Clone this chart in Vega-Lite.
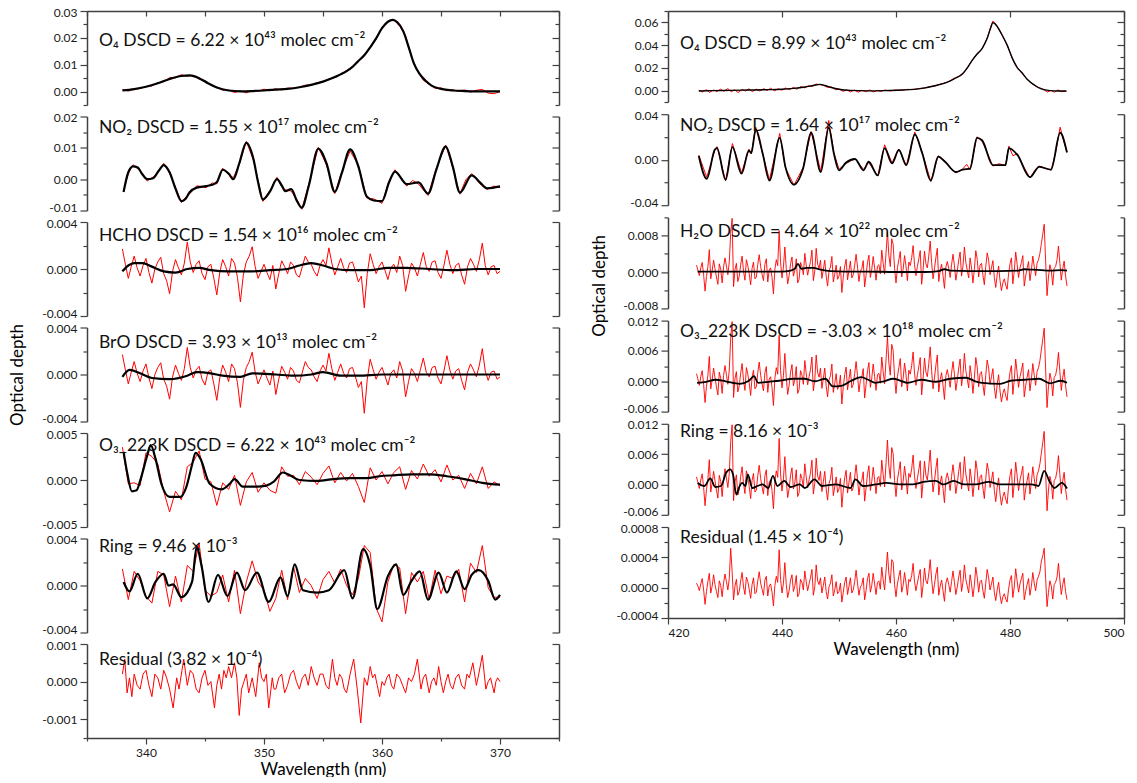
{
"$schema":"https://vega.github.io/schema/vega-lite/v6.json",
"padding":{"left":7,"top":6,"right":5,"bottom":0},
"config":{"view":{"stroke":null},"font":"Lato",
"axis":{"labelFont":"Lato","labelFontSize":12,"labelColor":"#1a1a1a","domainColor":"#404040","domainWidth":1.5,"tickColor":"#404040","tickWidth":1.2,"labelPadding":3,"titleFont":"Lato","titleFontSize":17,"titleFontWeight":"normal","titleColor":"#000","grid":false},
"axisY":{"labelFlush":true,"labelFlushOffset":4},
"title":{"font":"Lato, DejaVu Sans","fontSize":17.5,"fontWeight":"normal","color":"#111","anchor":"start","frame":"group","dx":12,"baseline":"middle"}},
"datasets":{
"l1r":[{"x":338,"y":0.0008},{"x":338.5,"y":0.0002},{"x":339,"y":0.0009},{"x":339.5,"y":0.0011},{"x":340,"y":0.0019},{"x":340.5,"y":0.0021},{"x":341,"y":0.0033},{"x":341.5,"y":0.0036},{"x":342,"y":0.0052},{"x":342.5,"y":0.0051},{"x":343,"y":0.0063},{"x":343.5,"y":0.0057},{"x":344,"y":0.0061},{"x":344.5,"y":0.0046},{"x":345,"y":0.0041},{"x":345.5,"y":0.0024},{"x":346,"y":0.0016},{"x":346.5,"y":0.0005},{"x":347,"y":0.0006},{"x":347.5,"y":-0.0004},{"x":348,"y":0.0003},{"x":348.5,"y":-0.0005},{"x":349,"y":0.0004},{"x":349.5,"y":0.0001},{"x":350,"y":0.0009},{"x":350.5,"y":0.0003},{"x":351,"y":0.0011},{"x":351.5,"y":0.0006},{"x":352,"y":0.0013},{"x":352.5,"y":0.0012},{"x":353,"y":0.0016},{"x":353.5,"y":0.0024},{"x":354,"y":0.0024},{"x":354.5,"y":0.0033},{"x":355,"y":0.0036},{"x":355.5,"y":0.0047},{"x":356,"y":0.0052},{"x":356.5,"y":0.0066},{"x":357,"y":0.0078},{"x":357.5,"y":0.0093},{"x":358,"y":0.0117},{"x":358.5,"y":0.0136},{"x":359,"y":0.0163},{"x":359.5,"y":0.0195},{"x":360,"y":0.0238},{"x":360.5,"y":0.0262},{"x":361,"y":0.0268},{"x":361.5,"y":0.0243},{"x":362,"y":0.0208},{"x":362.5,"y":0.0128},{"x":363,"y":0.0078},{"x":363.5,"y":0.0042},{"x":364,"y":0.0027},{"x":364.5,"y":0.0012},{"x":365,"y":0.0014},{"x":365.5,"y":0.0003},{"x":366,"y":0.0007},{"x":366.5,"y":0.0001},{"x":367,"y":0.0006},{"x":367.5,"y":-0.0002},{"x":368,"y":0.0005},{"x":368.5,"y":0.0008},{"x":369,"y":-0.0006},{"x":369.5,"y":-0.0008},{"x":370,"y":0.0}],
"l1b":[{"x":338,"y":0.0004},{"x":339,"y":0.0009},{"x":340,"y":0.0018},{"x":341,"y":0.0031},{"x":342,"y":0.0047},{"x":343,"y":0.0058},{"x":343.7,"y":0.006},{"x":344.5,"y":0.005},{"x":345.3,"y":0.003},{"x":346,"y":0.0015},{"x":347,"y":0.0004},{"x":348,"y":0.0001},{"x":349,"y":0.0002},{"x":350,"y":0.0004},{"x":351,"y":0.0007},{"x":352,"y":0.001},{"x":353,"y":0.0016},{"x":354,"y":0.0025},{"x":355,"y":0.0037},{"x":356,"y":0.0054},{"x":357,"y":0.0076},{"x":357.5,"y":0.0092},{"x":358,"y":0.0114},{"x":358.5,"y":0.0135},{"x":359,"y":0.0165},{"x":359.5,"y":0.0198},{"x":360,"y":0.0236},{"x":360.5,"y":0.026},{"x":360.9,"y":0.0267},{"x":361.3,"y":0.0258},{"x":361.8,"y":0.0225},{"x":362.3,"y":0.016},{"x":362.7,"y":0.0105},{"x":363.2,"y":0.0065},{"x":363.7,"y":0.004},{"x":364.2,"y":0.0022},{"x":365,"y":0.001},{"x":366,"y":0.0004},{"x":367,"y":0.0002},{"x":368,"y":0.0001},{"x":369,"y":0.0001},{"x":370,"y":0.0001}],
"l2r":[{"x":338.1,"y":-0.0035},{"x":338.5,"y":0.0018},{"x":338.9,"y":0.0046},{"x":339.3,"y":0.0033},{"x":339.7,"y":0.0019},{"x":340.1,"y":-0.0006},{"x":340.6,"y":0.0007},{"x":341.1,"y":0.0024},{"x":341.5,"y":0.0051},{"x":342.0,"y":0.0018},{"x":342.5,"y":-0.0026},{"x":343.0,"y":-0.0075},{"x":343.3,"y":-0.006},{"x":343.7,"y":-0.0047},{"x":344.3,"y":-0.0021},{"x":345.1,"y":-0.0027},{"x":345.6,"y":-0.0012},{"x":346.0,"y":-0.0015},{"x":346.5,"y":0.0035},{"x":347.0,"y":0.0014},{"x":347.4,"y":0.0005},{"x":347.9,"y":0.0046},{"x":348.5,"y":0.0121},{"x":349.1,"y":0.0061},{"x":349.5,"y":-0.0005},{"x":349.9,"y":-0.0071},{"x":350.5,"y":-0.0036},{"x":351.1,"y":0.0006},{"x":351.5,"y":-0.0025},{"x":351.8,"y":-0.0033},{"x":352.3,"y":-0.0038},{"x":352.8,"y":-0.0066},{"x":353.2,"y":-0.0096},{"x":353.8,"y":-0.0016},{"x":354.6,"y":0.0102},{"x":355.3,"y":0.0045},{"x":356.0,"y":-0.0046},{"x":356.6,"y":0.0025},{"x":357.3,"y":0.009},{"x":358.0,"y":0.0045},{"x":358.7,"y":-0.006},{"x":359.3,"y":-0.0063},{"x":360.0,"y":-0.0077},{"x":360.6,"y":-0.0005},{"x":361.1,"y":0.003},{"x":361.6,"y":0.0006},{"x":362.1,"y":-0.0022},{"x":362.6,"y":-0.0004},{"x":363.1,"y":-0.0016},{"x":363.9,"y":-0.0052},{"x":364.6,"y":0.0035},{"x":365.4,"y":0.0109},{"x":366.0,"y":0.0036},{"x":366.6,"y":-0.0048},{"x":367.1,"y":-0.0002},{"x":367.6,"y":0.0018},{"x":368.3,"y":-0.0015},{"x":368.9,"y":-0.0033},{"x":369.5,"y":-0.0022},{"x":370.0,"y":-0.0027}],
"l2b":[{"x":338.1,"y":-0.0041},{"x":338.5,"y":0.0022},{"x":338.9,"y":0.0041},{"x":339.3,"y":0.0037},{"x":339.7,"y":0.0015},{"x":340.1,"y":0.0},{"x":340.6,"y":0.0003},{"x":341.1,"y":0.0028},{"x":341.5,"y":0.0045},{"x":342.0,"y":0.0022},{"x":342.5,"y":-0.003},{"x":343.0,"y":-0.007},{"x":343.3,"y":-0.0065},{"x":343.7,"y":-0.0042},{"x":344.3,"y":-0.0027},{"x":345.1,"y":-0.0022},{"x":345.6,"y":-0.0018},{"x":346.0,"y":-0.001},{"x":346.5,"y":0.003},{"x":347.0,"y":0.0018},{"x":347.4,"y":0.0},{"x":347.9,"y":0.005},{"x":348.5,"y":0.0116},{"x":349.1,"y":0.0065},{"x":349.5,"y":-0.001},{"x":349.9,"y":-0.0065},{"x":350.5,"y":-0.004},{"x":351.1,"y":0.0},{"x":351.5,"y":-0.002},{"x":351.8,"y":-0.0038},{"x":352.3,"y":-0.0032},{"x":352.8,"y":-0.007},{"x":353.2,"y":-0.0091},{"x":353.8,"y":-0.002},{"x":354.6,"y":0.0097},{"x":355.3,"y":0.005},{"x":356.0,"y":-0.0041},{"x":356.6,"y":0.002},{"x":357.3,"y":0.0095},{"x":358.0,"y":0.004},{"x":358.7,"y":-0.0055},{"x":359.3,"y":-0.0068},{"x":360.0,"y":-0.007},{"x":360.6,"y":-0.001},{"x":361.1,"y":0.0024},{"x":362.1,"y":-0.0016},{"x":363.1,"y":-0.001},{"x":363.9,"y":-0.0046},{"x":364.6,"y":0.003},{"x":365.4,"y":0.0104},{"x":366.0,"y":0.004},{"x":366.6,"y":-0.0043},{"x":367.6,"y":0.0012},{"x":368.3,"y":-0.001},{"x":368.9,"y":-0.0029},{"x":370.0,"y":-0.0023}],
"nl":[{"x":338,"y":0.0017},{"x":338.25,"y":0.0004},{"x":338.5,"y":-0.0008},{"x":338.75,"y":0.0002},{"x":339,"y":0.0011},{"x":339.25,"y":0.0001},{"x":339.5,"y":-0.0006},{"x":339.75,"y":0.0003},{"x":340,"y":0.0009},{"x":340.25,"y":-0.0003},{"x":340.5,"y":-0.0012},{"x":340.75,"y":0.0},{"x":341,"y":0.0006},{"x":341.25,"y":0.001},{"x":341.5,"y":-0.0004},{"x":341.75,"y":-0.001},{"x":342,"y":-0.0021},{"x":342.25,"y":-0.0002},{"x":342.5,"y":0.0008},{"x":342.75,"y":0.0001},{"x":343,"y":-0.0005},{"x":343.25,"y":0.0005},{"x":343.5,"y":0.0023},{"x":343.75,"y":0.0006},{"x":344,"y":-0.0003},{"x":344.25,"y":0.0004},{"x":344.5,"y":0.0007},{"x":344.75,"y":-0.0004},{"x":345,"y":-0.0009},{"x":345.25,"y":0.0002},{"x":345.5,"y":0.0004},{"x":345.75,"y":-0.0008},{"x":346,"y":-0.0022},{"x":346.25,"y":-0.0003},{"x":346.5,"y":0.0008},{"x":346.75,"y":0.0002},{"x":347,"y":-0.0006},{"x":347.25,"y":0.0009},{"x":347.5,"y":0.0005},{"x":347.75,"y":-0.0007},{"x":348,"y":-0.0028},{"x":348.25,"y":-0.0005},{"x":348.5,"y":0.0006},{"x":348.75,"y":0.0011},{"x":349,"y":0.0019},{"x":349.25,"y":0.0002},{"x":349.5,"y":-0.0008},{"x":349.75,"y":-0.0002},{"x":350,"y":0.0004},{"x":350.25,"y":-0.0003},{"x":350.5,"y":-0.0009},{"x":350.75,"y":0.0003},{"x":351,"y":-0.0017},{"x":351.25,"y":-0.0004},{"x":351.5,"y":0.0007},{"x":351.75,"y":0.0002},{"x":352,"y":-0.0004},{"x":352.25,"y":0.0006},{"x":352.5,"y":0.0003},{"x":352.75,"y":-0.0005},{"x":353,"y":-0.0007},{"x":353.25,"y":0.0002},{"x":353.5,"y":0.0011},{"x":353.75,"y":0.0006},{"x":354,"y":0.0004},{"x":354.25,"y":-0.0002},{"x":354.5,"y":-0.0006},{"x":354.75,"y":0.0003},{"x":355,"y":0.0008},{"x":355.25,"y":0.0003},{"x":355.5,"y":0.0018},{"x":355.75,"y":0.0005},{"x":356,"y":-0.0005},{"x":356.25,"y":0.0002},{"x":356.5,"y":0.0009},{"x":356.75,"y":0.0001},{"x":357,"y":-0.0003},{"x":357.25,"y":0.0005},{"x":357.5,"y":0.0006},{"x":357.75,"y":-0.0002},{"x":358,"y":-0.0011},{"x":358.25,"y":-0.0006},{"x":358.5,"y":-0.0033},{"x":358.75,"y":-0.0004},{"x":359,"y":0.0013},{"x":359.25,"y":0.0004},{"x":359.5,"y":-0.0004},{"x":359.75,"y":0.0002},{"x":360,"y":0.0006},{"x":360.25,"y":-0.0001},{"x":360.5,"y":-0.0009},{"x":360.75,"y":0.0001},{"x":361,"y":0.0004},{"x":361.25,"y":-0.0003},{"x":361.5,"y":0.0011},{"x":361.75,"y":0.0003},{"x":362,"y":-0.0019},{"x":362.25,"y":-0.0006},{"x":362.5,"y":0.0005},{"x":362.75,"y":0.0001},{"x":363,"y":-0.0006},{"x":363.25,"y":0.0004},{"x":363.5,"y":0.0014},{"x":363.75,"y":0.0002},{"x":364,"y":-0.0002},{"x":364.25,"y":0.0006},{"x":364.5,"y":0.0007},{"x":364.75,"y":-0.0003},{"x":365,"y":-0.0008},{"x":365.25,"y":0.0003},{"x":365.5,"y":0.0016},{"x":365.75,"y":0.0004},{"x":366,"y":-0.0004},{"x":366.25,"y":0.0003},{"x":366.5,"y":0.0005},{"x":366.75,"y":-0.0005},{"x":367,"y":-0.0013},{"x":367.25,"y":0.0002},{"x":367.5,"y":0.0009},{"x":367.75,"y":0.0004},{"x":368,"y":-0.0002},{"x":368.25,"y":0.0008},{"x":368.5,"y":0.0022},{"x":368.75,"y":0.0003},{"x":369,"y":-0.0005},{"x":369.25,"y":0.0002},{"x":369.5,"y":0.0003},{"x":369.75,"y":-0.0004},{"x":370,"y":-0.0002}],
"l3b":[{"x":338,"y":-0.0002},{"x":338.5,"y":0.0003},{"x":339,"y":0.0005},{"x":339.7,"y":0.0005},{"x":340.5,"y":0.0002},{"x":341.5,"y":-0.0002},{"x":342.5,"y":-0.0003},{"x":343.5,"y":0.0},{"x":344.5,"y":0.0001},{"x":345.5,"y":-0.0001},{"x":347,"y":-0.0002},{"x":349,"y":-0.0002},{"x":350.5,"y":-0.0001},{"x":352,"y":0.0},{"x":353,"y":0.0003},{"x":354,"y":0.0005},{"x":355,"y":0.0003},{"x":356,"y":0.0},{"x":357.5,"y":-0.0001},{"x":359,"y":-0.0001},{"x":360.5,"y":0.0001},{"x":362,"y":0.0001},{"x":364,"y":0.0},{"x":366,"y":-0.0001},{"x":368,"y":0.0},{"x":370,"y":0.0}],
"l4b":[{"x":338,"y":-0.0002},{"x":338.6,"y":0.0004},{"x":339.5,"y":0.0001},{"x":340.5,"y":-0.0003},{"x":342,"y":-0.0004},{"x":343.5,"y":-0.0001},{"x":344.3,"y":0.0002},{"x":345.5,"y":0.0001},{"x":346.5,"y":-0.0001},{"x":348,"y":-0.0002},{"x":349,"y":0.0001},{"x":351,"y":0.0},{"x":352.5,"y":-0.0001},{"x":354,"y":0.0},{"x":355,"y":0.0002},{"x":356.5,"y":-0.0001},{"x":358,"y":-0.0001},{"x":360,"y":0.0},{"x":362,"y":0.0},{"x":364,"y":0.0},{"x":366,"y":0.0},{"x":368,"y":0.0},{"x":370,"y":0.0}],
"l5r":[{"x":338,"y":0.0035},{"x":338.5,"y":-0.0004},{"x":339,"y":-0.0003},{"x":339.5,"y":-0.0006},{"x":340,"y":0.0029},{"x":340.5,"y":0.0025},{"x":341,"y":0.0017},{"x":341.5,"y":-0.0012},{"x":342,"y":-0.0034},{"x":342.5,"y":-0.0012},{"x":343,"y":-0.0021},{"x":343.5,"y":0.0014},{"x":344,"y":0.0019},{"x":344.5,"y":0.0031},{"x":345,"y":0.0001},{"x":345.5,"y":-0.0002},{"x":346,"y":-0.0027},{"x":346.5,"y":-0.0003},{"x":347,"y":-0.001},{"x":347.5,"y":0.0005},{"x":348,"y":-0.0027},{"x":348.5,"y":-0.0002},{"x":349,"y":0.0008},{"x":349.5,"y":-0.0013},{"x":350,"y":-0.0003},{"x":350.5,"y":-0.0011},{"x":351,"y":-0.0014},{"x":351.5,"y":0.0014},{"x":352,"y":0.0004},{"x":352.5,"y":0.0005},{"x":353,"y":-0.0005},{"x":353.5,"y":0.0009},{"x":354,"y":0.0003},{"x":354.5,"y":-0.0005},{"x":355,"y":0.0007},{"x":355.5,"y":0.0015},{"x":356,"y":-0.0003},{"x":356.5,"y":0.0008},{"x":357,"y":-0.0001},{"x":357.5,"y":0.0007},{"x":358,"y":-0.0007},{"x":358.5,"y":-0.0024},{"x":359,"y":0.0013},{"x":359.5,"y":0.0},{"x":360,"y":0.0009},{"x":360.5,"y":-0.0004},{"x":361,"y":0.0008},{"x":361.5,"y":0.0014},{"x":362,"y":-0.001},{"x":362.5,"y":0.001},{"x":363,"y":0.0001},{"x":363.5,"y":0.0017},{"x":364,"y":0.0004},{"x":364.5,"y":0.0011},{"x":365,"y":-0.0002},{"x":365.5,"y":0.0016},{"x":366,"y":0.0},{"x":366.5,"y":0.0005},{"x":367,"y":-0.0009},{"x":367.5,"y":0.0007},{"x":368,"y":-0.0004},{"x":368.5,"y":0.0014},{"x":369,"y":-0.0009},{"x":369.5,"y":-0.0002},{"x":370,"y":-0.0006}],
"l5b":[{"x":338.1,"y":0.003},{"x":338.4,"y":0.0008},{"x":338.8,"y":-0.0012},{"x":339.2,"y":-0.0011},{"x":339.5,"y":-0.0001},{"x":340.1,"y":0.0026},{"x":340.4,"y":0.0037},{"x":340.8,"y":0.0023},{"x":341.3,"y":-0.0004},{"x":342.0,"y":-0.0018},{"x":342.9,"y":-0.0018},{"x":343.4,"y":-0.0008},{"x":343.9,"y":0.0016},{"x":344.2,"y":0.0029},{"x":344.6,"y":0.0023},{"x":345.4,"y":-0.0004},{"x":346.4,"y":-0.001},{"x":347.1,"y":-0.0004},{"x":347.5,"y":0.0001},{"x":348.2,"y":-0.0007},{"x":349.4,"y":-0.0007},{"x":350.2,"y":-0.0006},{"x":350.8,"y":-0.0002},{"x":351.6,"y":0.0008},{"x":352.2,"y":0.0005},{"x":353.0,"y":0.0},{"x":354.5,"y":-0.0001},{"x":355.9,"y":0.0001},{"x":357.3,"y":0.0002},{"x":358.7,"y":0.0002},{"x":359.8,"y":0.0004},{"x":361,"y":0.0005},{"x":362.5,"y":0.0006},{"x":364,"y":0.0006},{"x":365.5,"y":0.0004},{"x":367,"y":0.0001},{"x":368.5,"y":-0.0003},{"x":370,"y":-0.0005}],
"l6r":[{"x":338,"y":0.0014},{"x":338.5,"y":-0.0012},{"x":339,"y":0.0012},{"x":339.5,"y":0.0004},{"x":340,"y":-0.0009},{"x":340.5,"y":-0.0015},{"x":341,"y":0.0012},{"x":341.5,"y":0.0009},{"x":342,"y":-0.0018},{"x":342.5,"y":0.0008},{"x":343,"y":-0.0014},{"x":343.5,"y":0.0017},{"x":344,"y":0.0012},{"x":344.5,"y":0.0036},{"x":345,"y":-0.0004},{"x":345.5,"y":-0.0009},{"x":346,"y":-0.0006},{"x":346.5,"y":0.0009},{"x":347,"y":-0.0014},{"x":347.5,"y":0.0013},{"x":348,"y":-0.0024},{"x":348.5,"y":0.0003},{"x":349,"y":0.0021},{"x":349.5,"y":0.0003},{"x":350,"y":-0.0004},{"x":350.5,"y":-0.0022},{"x":351,"y":-0.0011},{"x":351.5,"y":0.0013},{"x":352,"y":-0.0012},{"x":352.5,"y":0.0016},{"x":353,"y":-0.0006},{"x":353.5,"y":0.0006},{"x":354,"y":0.0},{"x":354.5,"y":-0.0011},{"x":355,"y":0.0005},{"x":355.5,"y":0.0012},{"x":356,"y":0.0002},{"x":356.5,"y":0.0014},{"x":357,"y":0.0},{"x":357.5,"y":-0.0008},{"x":358,"y":0.0006},{"x":358.5,"y":0.0034},{"x":359,"y":0.0028},{"x":359.5,"y":-0.0019},{"x":360,"y":-0.0031},{"x":360.5,"y":0.0003},{"x":361,"y":0.0018},{"x":361.5,"y":0.0015},{"x":362,"y":-0.0024},{"x":362.5,"y":0.0011},{"x":363,"y":0.0003},{"x":363.5,"y":0.0012},{"x":364,"y":-0.0012},{"x":364.5,"y":0.0013},{"x":365,"y":-0.0007},{"x":365.5,"y":0.0008},{"x":366,"y":0.0006},{"x":366.5,"y":0.0014},{"x":367,"y":-0.0014},{"x":367.5,"y":0.0019},{"x":368,"y":0.0011},{"x":368.5,"y":0.0034},{"x":369,"y":-0.0002},{"x":369.5,"y":-0.001},{"x":370,"y":-0.001}],
"l6b":[{"x":338.1,"y":0.0003},{"x":338.6,"y":-0.0005},{"x":339.3,"y":0.001},{"x":340.1,"y":-0.0011},{"x":340.8,"y":0.0003},{"x":341.5,"y":0.001},{"x":341.9,"y":0.0},{"x":342.3,"y":0.0001},{"x":343.0,"y":-0.001},{"x":343.9,"y":0.0003},{"x":344.3,"y":0.0033},{"x":344.7,"y":0.0017},{"x":345.3,"y":-0.0014},{"x":346.1,"y":0.0009},{"x":346.9,"y":-0.0009},{"x":347.7,"y":0.0011},{"x":348.4,"y":-0.0004},{"x":349.4,"y":0.0011},{"x":350.4,"y":-0.0014},{"x":351.4,"y":0.0007},{"x":352.0,"y":-0.0009},{"x":352.6,"y":0.0018},{"x":353.3,"y":-0.0004},{"x":354.5,"y":-0.0006},{"x":355.5,"y":-0.0004},{"x":356.8,"y":0.0013},{"x":357.5,"y":-0.0011},{"x":358.4,"y":0.0031},{"x":359.0,"y":0.0017},{"x":359.6,"y":-0.002},{"x":360.5,"y":0.0008},{"x":361.2,"y":0.0018},{"x":361.8,"y":-0.0008},{"x":362.5,"y":0.0004},{"x":363.2,"y":0.0012},{"x":363.9,"y":-0.0012},{"x":364.8,"y":0.0011},{"x":365.5,"y":-0.0006},{"x":366.3,"y":0.0012},{"x":367.0,"y":-0.0003},{"x":367.6,"y":0.0009},{"x":368.2,"y":0.0013},{"x":369.0,"y":0.0004},{"x":369.6,"y":-0.0012},{"x":370,"y":-0.0008}],
"l7r":[{"x":338,"y":0.0002},{"x":338.2,"y":0.0006},{"x":338.4,"y":-0.0003},{"x":338.6,"y":0.0001},{"x":338.8,"y":-0.0004},{"x":339,"y":0.0002},{"x":339.25,"y":-0.0001},{"x":339.5,"y":-0.0002},{"x":339.75,"y":0.0002},{"x":340,"y":0.0003},{"x":340.25,"y":-0.0001},{"x":340.5,"y":-0.0004},{"x":340.75,"y":0.0002},{"x":341,"y":0.0001},{"x":341.25,"y":-0.0002},{"x":341.5,"y":0.0003},{"x":341.75,"y":0.0001},{"x":342,"y":-0.0002},{"x":342.3,"y":-0.0007},{"x":342.6,"y":0.0001},{"x":342.8,"y":-0.0002},{"x":343,"y":0.0002},{"x":343.2,"y":0.0006},{"x":343.5,"y":-0.0001},{"x":343.75,"y":0.0003},{"x":344,"y":0.0002},{"x":344.25,"y":-0.0002},{"x":344.5,"y":-0.0003},{"x":344.75,"y":0.0001},{"x":345,"y":0.0003},{"x":345.25,"y":-0.0001},{"x":345.5,"y":0.0},{"x":345.8,"y":-0.0007},{"x":346,"y":-0.0001},{"x":346.2,"y":0.0002},{"x":346.4,"y":-0.0002},{"x":346.6,"y":0.0003},{"x":346.8,"y":0.0001},{"x":347,"y":0.0004},{"x":347.25,"y":0.0001},{"x":347.5,"y":0.0005},{"x":347.7,"y":0.0001},{"x":347.9,"y":-0.0009},{"x":348.1,"y":-0.0002},{"x":348.3,"y":0.0},{"x":348.5,"y":0.0002},{"x":348.7,"y":-0.0003},{"x":349,"y":0.0001},{"x":349.3,"y":-0.0004},{"x":349.6,"y":0.0005},{"x":349.8,"y":0.0001},{"x":350,"y":0.0},{"x":350.2,"y":0.0002},{"x":350.4,"y":-0.0007},{"x":350.7,"y":0.0001},{"x":350.85,"y":-0.0002},{"x":351,"y":-0.0002},{"x":351.25,"y":0.0001},{"x":351.5,"y":0.0002},{"x":351.75,"y":-0.0003},{"x":352,"y":-0.0001},{"x":352.25,"y":0.0002},{"x":352.5,"y":0.0003},{"x":352.75,"y":0.0},{"x":353,"y":-0.0002},{"x":353.25,"y":0.0001},{"x":353.5,"y":0.0002},{"x":353.75,"y":-0.0001},{"x":354,"y":0.0004},{"x":354.25,"y":0.0001},{"x":354.5,"y":-0.0001},{"x":354.75,"y":0.0002},{"x":355,"y":0.0002},{"x":355.25,"y":-0.0001},{"x":355.5,"y":-0.0002},{"x":355.8,"y":0.0006},{"x":356,"y":0.0001},{"x":356.2,"y":-0.0001},{"x":356.4,"y":0.0002},{"x":356.6,"y":0.0001},{"x":356.8,"y":-0.0002},{"x":357,"y":-0.0003},{"x":357.3,"y":0.0002},{"x":357.6,"y":0.0006},{"x":357.9,"y":-0.0002},{"x":358.2,"y":-0.0011},{"x":358.5,"y":0.0001},{"x":358.75,"y":-0.0001},{"x":359,"y":0.0004},{"x":359.2,"y":0.0001},{"x":359.4,"y":0.0002},{"x":359.6,"y":-0.0001},{"x":359.8,"y":-0.0004},{"x":360,"y":0.0},{"x":360.2,"y":-0.0001},{"x":360.4,"y":0.0001},{"x":360.6,"y":0.0002},{"x":360.8,"y":-0.0001},{"x":361,"y":-0.0002},{"x":361.25,"y":0.0002},{"x":361.5,"y":0.0001},{"x":361.75,"y":-0.0001},{"x":362,"y":-0.0003},{"x":362.25,"y":0.0001},{"x":362.5,"y":0.0},{"x":362.75,"y":0.0002},{"x":363,"y":0.0006},{"x":363.3,"y":-0.0002},{"x":363.5,"y":0.0001},{"x":363.7,"y":0.0002},{"x":364,"y":-0.0003},{"x":364.2,"y":0.0},{"x":364.4,"y":0.0001},{"x":364.6,"y":-0.0001},{"x":364.8,"y":0.0004},{"x":365,"y":0.0},{"x":365.2,"y":-0.0003},{"x":365.4,"y":0.0},{"x":365.6,"y":0.0002},{"x":365.8,"y":-0.0001},{"x":366,"y":-0.0002},{"x":366.25,"y":0.0001},{"x":366.5,"y":0.0002},{"x":366.75,"y":-0.0001},{"x":367,"y":-0.0002},{"x":367.2,"y":0.0002},{"x":367.4,"y":0.0001},{"x":367.7,"y":0.0005},{"x":368,"y":-0.0001},{"x":368.2,"y":0.0002},{"x":368.5,"y":0.0007},{"x":368.8,"y":-0.0002},{"x":369,"y":0.0},{"x":369.2,"y":0.0001},{"x":369.35,"y":-0.0001},{"x":369.5,"y":-0.0003},{"x":369.65,"y":0.0},{"x":369.8,"y":0.0001},{"x":370,"y":0.0}],
"r1r":[{"x":425.4,"y":0.0005},{"x":426,"y":-0.0012},{"x":426.7,"y":0.0008},{"x":427.3,"y":-0.0015},{"x":428,"y":0.0006},{"x":428.6,"y":-0.0008},{"x":429.2,"y":0.0012},{"x":429.8,"y":-0.0005},{"x":430.5,"y":0.0018},{"x":431.1,"y":-0.001},{"x":431.7,"y":0.0008},{"x":432.3,"y":-0.0017},{"x":433,"y":0.0011},{"x":433.6,"y":-0.0004},{"x":434.2,"y":0.0016},{"x":434.8,"y":-0.0009},{"x":435.5,"y":0.0013},{"x":436.1,"y":-0.0003},{"x":436.8,"y":0.0017},{"x":437.4,"y":0.0002},{"x":438,"y":0.0021},{"x":438.7,"y":-0.0002},{"x":439.3,"y":0.0016},{"x":440,"y":0.0004},{"x":440.6,"y":0.0023},{"x":441.3,"y":0.0008},{"x":442,"y":0.0028},{"x":442.6,"y":0.0012},{"x":443.3,"y":0.0036},{"x":444,"y":0.0024},{"x":444.6,"y":0.0043},{"x":445.3,"y":0.0037},{"x":446,"y":0.0058},{"x":446.7,"y":0.0052},{"x":447.3,"y":0.0047},{"x":448,"y":0.0028},{"x":448.7,"y":0.0031},{"x":449.4,"y":0.0008},{"x":450,"y":0.0015},{"x":450.7,"y":-0.0006},{"x":451.4,"y":0.0006},{"x":452,"y":-0.0011},{"x":452.7,"y":0.0004},{"x":453.4,"y":-0.0014},{"x":454,"y":0.0003},{"x":454.7,"y":-0.0009},{"x":455.4,"y":0.0006},{"x":456,"y":-0.0012},{"x":456.7,"y":0.0002},{"x":457.4,"y":-0.0007},{"x":458,"y":0.0005},{"x":459,"y":-0.0002},{"x":460,"y":0.0006},{"x":461,"y":0.0003},{"x":462,"y":0.0011},{"x":463,"y":0.0009},{"x":464,"y":0.0019},{"x":465,"y":0.0022},{"x":466,"y":0.0036},{"x":467,"y":0.0042},{"x":468,"y":0.0061},{"x":469,"y":0.0072},{"x":470.2,"y":0.0108},{"x":471,"y":0.0125},{"x":471.7,"y":0.0152},{"x":472.5,"y":0.0196},{"x":473.3,"y":0.0262},{"x":474.2,"y":0.0325},{"x":475.1,"y":0.0368},{"x":476,"y":0.0462},{"x":476.6,"y":0.0556},{"x":477,"y":0.0612},{"x":477.5,"y":0.0585},{"x":478,"y":0.0548},{"x":478.5,"y":0.0497},{"x":479.5,"y":0.0402},{"x":480.5,"y":0.0272},{"x":481.3,"y":0.0204},{"x":482,"y":0.0158},{"x":483,"y":0.0102},{"x":483.7,"y":0.0068},{"x":484.4,"y":0.0041},{"x":485,"y":0.0025},{"x":485.5,"y":0.0019},{"x":486,"y":0.0005},{"x":486.6,"y":-0.0012},{"x":487.2,"y":0.0003},{"x":487.8,"y":-0.0014},{"x":488.4,"y":0.0006},{"x":489,"y":-0.0009},{"x":489.9,"y":-0.0005}],
"r1b":[{"x":425.4,"y":-0.0003},{"x":428,"y":0.0},{"x":431,"y":0.0002},{"x":434,"y":0.0005},{"x":437,"y":0.0008},{"x":440,"y":0.0012},{"x":442,"y":0.002},{"x":444,"y":0.0032},{"x":445.5,"y":0.0045},{"x":446.7,"y":0.0055},{"x":447.5,"y":0.0045},{"x":448.5,"y":0.003},{"x":450,"y":0.0012},{"x":452,"y":0.0002},{"x":455,"y":-0.0002},{"x":458,"y":0.0},{"x":461,"y":0.0005},{"x":464,"y":0.0015},{"x":467,"y":0.0045},{"x":469,"y":0.0075},{"x":470.2,"y":0.0104},{"x":471.7,"y":0.0148},{"x":472.5,"y":0.02},{"x":473.3,"y":0.0262},{"x":474.2,"y":0.032},{"x":475.1,"y":0.037},{"x":476,"y":0.046},{"x":476.6,"y":0.055},{"x":477,"y":0.0598},{"x":477.5,"y":0.058},{"x":478.5,"y":0.05},{"x":479.5,"y":0.04},{"x":480.5,"y":0.0275},{"x":481.3,"y":0.02},{"x":482,"y":0.0163},{"x":483,"y":0.01},{"x":484.4,"y":0.0045},{"x":485.5,"y":0.0015},{"x":487,"y":0.0},{"x":488.5,"y":-0.0003},{"x":489.9,"y":-0.0003}],
"r2r":[{"x":425.4,"y":0.0041},{"x":426.8,"y":-0.0155},{"x":428.2,"y":0.0079},{"x":428.6,"y":0.0115},{"x":430.1,"y":-0.0185},{"x":431.3,"y":0.0142},{"x":432.9,"y":-0.0116},{"x":434.2,"y":0.0092},{"x":434.6,"y":0.0051},{"x":435.4,"y":0.0285},{"x":436.6,"y":0.0052},{"x":437.8,"y":-0.0176},{"x":439.6,"y":0.0231},{"x":440.6,"y":-0.0071},{"x":442.1,"y":-0.0225},{"x":443.7,"y":-0.0069},{"x":445.1,"y":0.0248},{"x":446.8,"y":-0.0101},{"x":448.2,"y":0.0345},{"x":449.1,"y":0.0062},{"x":450.0,"y":-0.0084},{"x":451.2,"y":-0.0035},{"x":452.8,"y":0.0011},{"x":454.3,"y":-0.0085},{"x":455.2,"y":-0.0024},{"x":456.8,"y":-0.0142},{"x":458.0,"y":0.0131},{"x":459.3,"y":-0.0028},{"x":460.5,"y":0.0094},{"x":461.8,"y":-0.0052},{"x":463.3,"y":0.0243},{"x":464.6,"y":0.0066},{"x":466.1,"y":-0.0191},{"x":467.4,"y":0.0034},{"x":468.6,"y":-0.0011},{"x":469.6,"y":-0.0072},{"x":470.5,"y":-0.0117},{"x":471.7,"y":-0.0081},{"x":472.4,"y":-0.0041},{"x":473.0,"y":-0.0089},{"x":474.2,"y":0.0201},{"x":475.1,"y":0.0163},{"x":476.1,"y":0.0051},{"x":477.0,"y":-0.0056},{"x":478.1,"y":-0.0035},{"x":479.2,"y":-0.0052},{"x":479.8,"y":0.0119},{"x":480.5,"y":0.0035},{"x":481.3,"y":0.0052},{"x":482.4,"y":-0.0062},{"x":483.5,"y":-0.0161},{"x":484.3,"y":-0.0098},{"x":485.1,"y":-0.0055},{"x":486.2,"y":-0.0074},{"x":487.2,"y":-0.0092},{"x":488.0,"y":0.0061},{"x":488.8,"y":0.0286},{"x":489.4,"y":0.0165},{"x":490.0,"y":0.0068}],
"r2b":[{"x":425.4,"y":0.0033},{"x":426.8,"y":-0.0168},{"x":428.2,"y":0.0087},{"x":428.6,"y":0.0102},{"x":430.1,"y":-0.0177},{"x":431.3,"y":0.011},{"x":432.9,"y":-0.0123},{"x":434.2,"y":0.0081},{"x":434.6,"y":0.0057},{"x":435.4,"y":0.0266},{"x":436.6,"y":0.0057},{"x":437.8,"y":-0.0183},{"x":439.6,"y":0.0192},{"x":440.6,"y":-0.0063},{"x":442.1,"y":-0.0219},{"x":443.7,"y":-0.0078},{"x":445.1,"y":0.0237},{"x":446.8,"y":-0.0108},{"x":448.2,"y":0.0281},{"x":449.1,"y":0.0055},{"x":450.0,"y":-0.0093},{"x":451.2,"y":-0.0027},{"x":452.8,"y":0.0006},{"x":454.3,"y":-0.0093},{"x":455.2,"y":-0.0018},{"x":456.8,"y":-0.0138},{"x":458.0,"y":0.0102},{"x":459.3,"y":-0.0033},{"x":460.5,"y":0.0087},{"x":461.8,"y":-0.0048},{"x":463.3,"y":0.0222},{"x":464.6,"y":0.0057},{"x":466.1,"y":-0.0183},{"x":467.4,"y":0.0027},{"x":468.6,"y":-0.0018},{"x":470.5,"y":-0.0108},{"x":471.7,"y":-0.0087},{"x":473.0,"y":-0.0078},{"x":474.2,"y":0.0192},{"x":475.1,"y":0.0171},{"x":477.0,"y":-0.0048},{"x":479.2,"y":-0.0048},{"x":479.8,"y":0.0102},{"x":481.3,"y":0.0042},{"x":483.5,"y":-0.0153},{"x":485.1,"y":-0.0063},{"x":487.2,"y":-0.0087},{"x":488.8,"y":0.0237},{"x":490.0,"y":0.0063}],
"nr":[{"x":425,"y":0.0015},{"x":425.25,"y":0.0004},{"x":425.5,"y":-0.0008},{"x":425.75,"y":0.0009},{"x":426,"y":0.0021},{"x":426.25,"y":-0.0006},{"x":426.5,"y":-0.0042},{"x":426.75,"y":-0.001},{"x":427,"y":0.0012},{"x":427.25,"y":0.0049},{"x":427.5,"y":-0.0015},{"x":427.75,"y":0.0003},{"x":428,"y":0.0026},{"x":428.25,"y":0.0007},{"x":428.5,"y":-0.0011},{"x":428.75,"y":-0.0027},{"x":429,"y":0.0018},{"x":429.25,"y":0.0006},{"x":429.5,"y":-0.0024},{"x":429.75,"y":0.0011},{"x":430,"y":0.0031},{"x":430.25,"y":0.0013},{"x":430.5,"y":-0.0006},{"x":430.75,"y":0.0022},{"x":431,"y":0.0085},{"x":431.25,"y":0.0118},{"x":431.5,"y":-0.0032},{"x":431.75,"y":0.0005},{"x":432,"y":0.0019},{"x":432.25,"y":-0.0021},{"x":432.5,"y":-0.0009},{"x":432.75,"y":0.0016},{"x":433,"y":0.0035},{"x":433.25,"y":0.0002},{"x":433.5,"y":-0.0018},{"x":433.75,"y":0.0027},{"x":434,"y":0.0014},{"x":434.25,"y":-0.0004},{"x":434.5,"y":-0.0028},{"x":434.75,"y":0.0008},{"x":435,"y":0.0022},{"x":435.25,"y":-0.0015},{"x":435.5,"y":-0.0011},{"x":435.75,"y":0.0017},{"x":436,"y":0.0038},{"x":436.25,"y":0.0012},{"x":436.5,"y":-0.0005},{"x":436.75,"y":-0.0019},{"x":437,"y":0.0017},{"x":437.25,"y":0.0029},{"x":437.5,"y":-0.0022},{"x":437.75,"y":0.0004},{"x":438,"y":0.0009},{"x":438.25,"y":-0.0012},{"x":438.5,"y":-0.0048},{"x":438.75,"y":0.0006},{"x":439,"y":0.0027},{"x":439.25,"y":0.0014},{"x":439.5,"y":0.0091},{"x":439.75,"y":0.0021},{"x":440,"y":-0.0013},{"x":440.25,"y":0.0011},{"x":440.5,"y":0.0055},{"x":440.75,"y":0.0007},{"x":441,"y":-0.0026},{"x":441.25,"y":-0.0008},{"x":441.5,"y":0.0018},{"x":441.75,"y":0.0033},{"x":442,"y":-0.0009},{"x":442.25,"y":0.0003},{"x":442.5,"y":0.0029},{"x":442.75,"y":-0.0024},{"x":443,"y":-0.0016},{"x":443.25,"y":0.0021},{"x":443.5,"y":0.0012},{"x":443.75,"y":-0.0006},{"x":444,"y":0.0041},{"x":444.25,"y":0.0015},{"x":444.5,"y":-0.0007},{"x":444.75,"y":0.0009},{"x":445,"y":0.0023},{"x":445.25,"y":0.0048},{"x":445.5,"y":-0.0019},{"x":445.75,"y":0.0002},{"x":446,"y":0.0052},{"x":446.25,"y":0.0017},{"x":446.5,"y":0.0008},{"x":446.75,"y":0.0026},{"x":447,"y":-0.0014},{"x":447.25,"y":0.0005},{"x":447.5,"y":0.0026},{"x":447.75,"y":-0.0009},{"x":448,"y":-0.0031},{"x":448.25,"y":0.0002},{"x":448.5,"y":0.0011},{"x":448.75,"y":0.0034},{"x":449,"y":-0.0022},{"x":449.25,"y":-0.0005},{"x":449.5,"y":0.0015},{"x":449.75,"y":-0.0016},{"x":450,"y":-0.0009},{"x":450.25,"y":0.0012},{"x":450.5,"y":-0.0045},{"x":450.75,"y":-0.0011},{"x":451,"y":0.0013},{"x":451.25,"y":0.0028},{"x":451.5,"y":-0.0017},{"x":451.75,"y":0.0004},{"x":452,"y":0.0024},{"x":452.25,"y":-0.0013},{"x":452.5,"y":-0.0006},{"x":452.75,"y":0.0015},{"x":453,"y":0.0039},{"x":453.25,"y":0.0011},{"x":453.5,"y":-0.0021},{"x":453.75,"y":0.0002},{"x":454,"y":0.0008},{"x":454.25,"y":0.0025},{"x":454.5,"y":-0.0033},{"x":454.75,"y":-0.0007},{"x":455,"y":0.0021},{"x":455.25,"y":0.0037},{"x":455.5,"y":-0.0012},{"x":455.75,"y":0.0006},{"x":456,"y":0.0034},{"x":456.25,"y":0.0009},{"x":456.5,"y":-0.0018},{"x":456.75,"y":0.0013},{"x":457,"y":0.0016},{"x":457.25,"y":-0.0004},{"x":457.5,"y":0.0048},{"x":457.75,"y":0.0019},{"x":458,"y":-0.0005},{"x":458.25,"y":0.0042},{"x":458.5,"y":0.0088},{"x":458.75,"y":0.0036},{"x":459,"y":0.0012},{"x":459.25,"y":0.0073},{"x":459.5,"y":0.0061},{"x":459.75,"y":0.0008},{"x":460,"y":-0.0024},{"x":460.25,"y":0.0009},{"x":460.5,"y":0.0027},{"x":460.75,"y":0.0045},{"x":461,"y":-0.0011},{"x":461.25,"y":0.0006},{"x":461.5,"y":0.0036},{"x":461.75,"y":0.0014},{"x":462,"y":-0.0019},{"x":462.25,"y":0.0022},{"x":462.5,"y":0.0014},{"x":462.75,"y":0.0031},{"x":463,"y":0.0058},{"x":463.25,"y":0.0016},{"x":463.5,"y":-0.0008},{"x":463.75,"y":0.0012},{"x":464,"y":0.0029},{"x":464.25,"y":0.0047},{"x":464.5,"y":-0.0027},{"x":464.75,"y":0.0005},{"x":465,"y":0.0046},{"x":465.25,"y":0.0018},{"x":465.5,"y":0.0009},{"x":465.75,"y":0.0035},{"x":466,"y":0.0068},{"x":466.25,"y":0.0021},{"x":466.5,"y":-0.0015},{"x":466.75,"y":0.0007},{"x":467,"y":0.0032},{"x":467.25,"y":0.0052},{"x":467.5,"y":-0.0021},{"x":467.75,"y":0.0003},{"x":468,"y":0.0017},{"x":468.25,"y":-0.0008},{"x":468.5,"y":-0.0036},{"x":468.75,"y":0.0011},{"x":469,"y":0.0023},{"x":469.25,"y":0.0008},{"x":469.5,"y":-0.0012},{"x":469.75,"y":0.0016},{"x":470,"y":0.0039},{"x":470.25,"y":0.0014},{"x":470.5,"y":-0.0018},{"x":470.75,"y":0.0002},{"x":471,"y":0.0026},{"x":471.25,"y":0.0044},{"x":471.5,"y":-0.0009},{"x":471.75,"y":0.0013},{"x":472,"y":0.0055},{"x":472.25,"y":0.0021},{"x":472.5,"y":0.0004},{"x":472.75,"y":-0.0013},{"x":473,"y":0.0031},{"x":473.25,"y":0.0009},{"x":473.5,"y":-0.0024},{"x":473.75,"y":0.0006},{"x":474,"y":0.0047},{"x":474.25,"y":0.0028},{"x":474.5,"y":-0.0011},{"x":474.75,"y":0.0015},{"x":475,"y":0.0019},{"x":475.25,"y":-0.0007},{"x":475.5,"y":-0.0028},{"x":475.75,"y":0.0012},{"x":476,"y":0.0042},{"x":476.25,"y":0.0026},{"x":476.5,"y":-0.0006},{"x":476.75,"y":0.0009},{"x":477,"y":0.0025},{"x":477.25,"y":-0.0012},{"x":477.5,"y":-0.0034},{"x":477.75,"y":-0.0006},{"x":478,"y":0.0013},{"x":478.25,"y":-0.0019},{"x":478.5,"y":-0.0041},{"x":478.75,"y":-0.0024},{"x":479,"y":-0.0015},{"x":479.25,"y":-0.0029},{"x":479.5,"y":-0.0038},{"x":479.75,"y":-0.0004},{"x":480,"y":0.0018},{"x":480.25,"y":0.0031},{"x":480.5,"y":-0.0026},{"x":480.75,"y":0.0002},{"x":481,"y":0.0044},{"x":481.25,"y":0.0017},{"x":481.5,"y":-0.0012},{"x":481.75,"y":0.0009},{"x":482,"y":0.0021},{"x":482.25,"y":0.0036},{"x":482.5,"y":-0.0031},{"x":482.75,"y":-0.0009},{"x":483,"y":0.0008},{"x":483.25,"y":0.0023},{"x":483.5,"y":-0.0019},{"x":483.75,"y":0.0004},{"x":484,"y":0.0035},{"x":484.25,"y":0.0012},{"x":484.5,"y":-0.0008},{"x":484.75,"y":0.0019},{"x":485,"y":0.0027},{"x":485.25,"y":0.0041},{"x":485.5,"y":0.0062},{"x":485.75,"y":0.0083},{"x":486,"y":0.0105},{"x":486.25,"y":0.0024},{"x":486.5,"y":-0.0052},{"x":486.75,"y":-0.0011},{"x":487,"y":0.0016},{"x":487.25,"y":0.0003},{"x":487.5,"y":-0.0029},{"x":487.75,"y":0.0008},{"x":488,"y":0.0012},{"x":488.25,"y":0.0027},{"x":488.5,"y":0.0057},{"x":488.75,"y":0.0019},{"x":489,"y":-0.0018},{"x":489.25,"y":0.0007},{"x":489.5,"y":0.0024},{"x":489.75,"y":-0.0009},{"x":490,"y":-0.0031}],
"r3b":[{"x":425.2,"y":0.0001},{"x":430,"y":0.0001},{"x":435,"y":0.0001},{"x":440,"y":0.0001},{"x":441.5,"y":0.0003},{"x":442.3,"y":0.0008},{"x":442.8,"y":0.0018},{"x":443.4,"y":0.0007},{"x":444.3,"y":0.0009},{"x":445.5,"y":0.0009},{"x":446.8,"y":0.0005},{"x":448.5,"y":0.0002},{"x":451,"y":0.0001},{"x":455,"y":0.0001},{"x":460,"y":0.0},{"x":465,"y":0.0},{"x":467.5,"y":0.0002},{"x":468.5,"y":0.0006},{"x":469.5,"y":0.0003},{"x":473,"y":0.0002},{"x":478,"y":0.0002},{"x":481.5,"y":0.0003},{"x":482.5,"y":0.0006},{"x":484,"y":0.0005},{"x":485.5,"y":0.0004},{"x":487,"y":0.0003},{"x":489,"y":0.0004},{"x":490,"y":0.0003}],
"r4b":[{"x":425.1,"y":-0.0003},{"x":426.7,"y":-0.0001},{"x":428.3,"y":0.0003},{"x":430.1,"y":0.0},{"x":432.6,"y":-0.0005},{"x":434.2,"y":0.0001},{"x":435.1,"y":0.001},{"x":435.8,"y":-0.0003},{"x":437.6,"y":-0.0001},{"x":439.5,"y":0.0001},{"x":442.0,"y":0.0005},{"x":443.9,"y":0.0005},{"x":445.8,"y":0.0},{"x":447.6,"y":0.0005},{"x":448.9,"y":-0.001},{"x":450.4,"y":-0.0009},{"x":452.0,"y":0.0},{"x":453.9,"y":0.0008},{"x":455.1,"y":0.0003},{"x":456.4,"y":-0.0003},{"x":457.9,"y":0.0},{"x":459.5,"y":0.0005},{"x":460.8,"y":0.0001},{"x":462.0,"y":-0.0003},{"x":464.5,"y":0.0003},{"x":467.0,"y":-0.0001},{"x":469.5,"y":0.0005},{"x":472.3,"y":0.0007},{"x":473.9,"y":0.0},{"x":475.1,"y":-0.0003},{"x":478.3,"y":-0.0005},{"x":480.1,"y":0.0001},{"x":482.6,"y":0.0003},{"x":485.1,"y":0.0005},{"x":487.0,"y":-0.0004},{"x":488.9,"y":0.0001},{"x":490.0,"y":-0.0003}],
"r5b":[{"x":425.2,"y":0.0003},{"x":426.4,"y":-0.0003},{"x":427.4,"y":0.0012},{"x":428.3,"y":-0.0005},{"x":429.3,"y":-0.0003},{"x":430.2,"y":0.0023},{"x":430.9,"y":0.003},{"x":431.4,"y":0.002},{"x":432.0,"y":-0.002},{"x":432.5,"y":-0.0005},{"x":433.0,"y":0.0003},{"x":433.6,"y":-0.0003},{"x":434.0,"y":0.002},{"x":434.8,"y":-0.0007},{"x":435.7,"y":-0.0003},{"x":436.6,"y":0.0},{"x":437.6,"y":-0.0007},{"x":438.4,"y":0.0017},{"x":439.2,"y":-0.0003},{"x":440.4,"y":0.0007},{"x":441.5,"y":-0.0005},{"x":443.1,"y":0.0},{"x":444.0,"y":-0.0007},{"x":445.7,"y":0.001},{"x":447.0,"y":-0.0003},{"x":449.5,"y":0.0},{"x":452.0,"y":-0.0007},{"x":452.9,"y":0.001},{"x":454.2,"y":-0.0003},{"x":456.4,"y":0.0},{"x":458.3,"y":0.0003},{"x":460.7,"y":0.0},{"x":462.9,"y":0.0},{"x":464.8,"y":0.0005},{"x":467.0,"y":0.0007},{"x":468.3,"y":0.0},{"x":470.1,"y":0.0007},{"x":472.0,"y":0.0},{"x":473.9,"y":0.0},{"x":476.3,"y":0.0005},{"x":478.2,"y":0.0},{"x":480.7,"y":0.0},{"x":483.8,"y":0.0},{"x":485.0,"y":-0.0003},{"x":486.0,"y":0.0027},{"x":486.9,"y":0.0007},{"x":487.8,"y":-0.0007},{"x":489.1,"y":0.0003},{"x":490.0,"y":-0.0008}],
"r6r":[{"x":425,"y":0.00006},{"x":425.25,"y":0.00002},{"x":425.5,"y":-0.00004},{"x":425.75,"y":0.00005},{"x":426,"y":0.00012},{"x":426.25,"y":-0.00003},{"x":426.5,"y":-0.00022},{"x":426.75,"y":-0.00005},{"x":427,"y":0.00008},{"x":427.25,"y":0.00019},{"x":427.5,"y":-0.00007},{"x":427.75,"y":0.00002},{"x":428,"y":0.00017},{"x":428.25,"y":0.00004},{"x":428.5,"y":-0.00005},{"x":428.75,"y":-0.00013},{"x":429,"y":0.00009},{"x":429.25,"y":0.00003},{"x":429.5,"y":-0.00012},{"x":429.75,"y":0.00006},{"x":430,"y":0.00018},{"x":430.25,"y":0.00008},{"x":430.5,"y":-0.00003},{"x":430.75,"y":0.00012},{"x":431,"y":0.00052},{"x":431.25,"y":0.00021},{"x":431.5,"y":-0.00016},{"x":431.75,"y":0.00002},{"x":432,"y":0.00011},{"x":432.25,"y":-0.0001},{"x":432.5,"y":-0.00005},{"x":432.75,"y":0.00009},{"x":433,"y":0.0002},{"x":433.25,"y":0.00001},{"x":433.5,"y":-0.00009},{"x":433.75,"y":0.00014},{"x":434,"y":0.00008},{"x":434.25,"y":-0.00002},{"x":434.5,"y":-0.00014},{"x":434.75,"y":0.00004},{"x":435,"y":0.00013},{"x":435.25,"y":-0.00008},{"x":435.5,"y":-0.00006},{"x":435.75,"y":0.00009},{"x":436,"y":0.00021},{"x":436.25,"y":0.00006},{"x":436.5,"y":-0.00002},{"x":436.75,"y":-0.0001},{"x":437,"y":0.0001},{"x":437.25,"y":0.00015},{"x":437.5,"y":-0.00011},{"x":437.75,"y":0.00002},{"x":438,"y":0.00005},{"x":438.25,"y":-0.00006},{"x":438.5,"y":-0.00024},{"x":438.75,"y":0.00003},{"x":439,"y":0.00015},{"x":439.25,"y":0.00007},{"x":439.5,"y":0.0005},{"x":439.75,"y":0.00011},{"x":440,"y":-0.00007},{"x":440.25,"y":0.00006},{"x":440.5,"y":0.00033},{"x":440.75,"y":0.00004},{"x":441,"y":-0.00013},{"x":441.25,"y":-0.00004},{"x":441.5,"y":0.0001},{"x":441.75,"y":0.00017},{"x":442,"y":-0.00005},{"x":442.25,"y":0.00002},{"x":442.5,"y":0.00016},{"x":442.75,"y":-0.00012},{"x":443,"y":-0.00008},{"x":443.25,"y":0.00011},{"x":443.5,"y":0.00007},{"x":443.75,"y":-0.00003},{"x":444,"y":0.00022},{"x":444.25,"y":0.00008},{"x":444.5,"y":-0.00004},{"x":444.75,"y":0.00005},{"x":445,"y":0.00013},{"x":445.25,"y":0.00024},{"x":445.5,"y":-0.0001},{"x":445.75,"y":0.00001},{"x":446,"y":0.0003},{"x":446.25,"y":0.00009},{"x":446.5,"y":0.00004},{"x":446.75,"y":0.00013},{"x":447,"y":-0.00007},{"x":447.25,"y":0.00003},{"x":447.5,"y":0.00014},{"x":447.75,"y":-0.00005},{"x":448,"y":-0.00015},{"x":448.25,"y":0.00001},{"x":448.5,"y":0.00006},{"x":448.75,"y":0.00017},{"x":449,"y":-0.00011},{"x":449.25,"y":-0.00003},{"x":449.5,"y":0.00008},{"x":449.75,"y":-0.00008},{"x":450,"y":-0.00005},{"x":450.25,"y":0.00006},{"x":450.5,"y":-0.00019},{"x":450.75,"y":-0.00006},{"x":451,"y":0.00007},{"x":451.25,"y":0.00014},{"x":451.5,"y":-0.00009},{"x":451.75,"y":0.00002},{"x":452,"y":0.00013},{"x":452.25,"y":-0.00007},{"x":452.5,"y":-0.00003},{"x":452.75,"y":0.00008},{"x":453,"y":0.00023},{"x":453.25,"y":0.00006},{"x":453.5,"y":-0.0001},{"x":453.75,"y":0.00001},{"x":454,"y":0.00004},{"x":454.25,"y":0.00013},{"x":454.5,"y":-0.00016},{"x":454.75,"y":-0.00004},{"x":455,"y":0.00012},{"x":455.25,"y":0.00019},{"x":455.5,"y":-0.00006},{"x":455.75,"y":0.00003},{"x":456,"y":0.00019},{"x":456.25,"y":0.00005},{"x":456.5,"y":-0.00009},{"x":456.75,"y":0.00007},{"x":457,"y":0.00009},{"x":457.25,"y":-0.00002},{"x":457.5,"y":0.00027},{"x":457.75,"y":0.0001},{"x":458,"y":-0.00003},{"x":458.25,"y":0.00022},{"x":458.5,"y":0.00047},{"x":458.75,"y":0.00018},{"x":459,"y":0.00006},{"x":459.25,"y":0.00037},{"x":459.5,"y":0.00034},{"x":459.75,"y":0.00004},{"x":460,"y":-0.00012},{"x":460.25,"y":0.00005},{"x":460.5,"y":0.00015},{"x":460.75,"y":0.00023},{"x":461,"y":-0.00006},{"x":461.25,"y":0.00003},{"x":461.5,"y":0.0002},{"x":461.75,"y":0.00007},{"x":462,"y":-0.0001},{"x":462.25,"y":0.00011},{"x":462.5,"y":0.00008},{"x":462.75,"y":0.00016},{"x":463,"y":0.00032},{"x":463.25,"y":0.00008},{"x":463.5,"y":-0.00004},{"x":463.75,"y":0.00006},{"x":464,"y":0.00016},{"x":464.25,"y":0.00024},{"x":464.5,"y":-0.00013},{"x":464.75,"y":0.00003},{"x":465,"y":0.00026},{"x":465.25,"y":0.00009},{"x":465.5,"y":0.00005},{"x":465.75,"y":0.00018},{"x":466,"y":0.00037},{"x":466.25,"y":0.00011},{"x":466.5,"y":-0.00008},{"x":466.75,"y":0.00004},{"x":467,"y":0.00018},{"x":467.25,"y":0.00027},{"x":467.5,"y":-0.0001},{"x":467.75,"y":0.00002},{"x":468,"y":0.0001},{"x":468.25,"y":-0.00004},{"x":468.5,"y":-0.00018},{"x":468.75,"y":0.00006},{"x":469,"y":0.00013},{"x":469.25,"y":0.00004},{"x":469.5,"y":-0.00006},{"x":469.75,"y":0.00008},{"x":470,"y":0.00022},{"x":470.25,"y":0.00007},{"x":470.5,"y":-0.00009},{"x":470.75,"y":0.00001},{"x":471,"y":0.00014},{"x":471.25,"y":0.00023},{"x":471.5,"y":-0.00005},{"x":471.75,"y":0.00007},{"x":472,"y":0.0003},{"x":472.25,"y":0.00011},{"x":472.5,"y":0.00002},{"x":472.75,"y":-0.00007},{"x":473,"y":0.00017},{"x":473.25,"y":0.00005},{"x":473.5,"y":-0.00012},{"x":473.75,"y":0.00003},{"x":474,"y":0.00027},{"x":474.25,"y":0.00014},{"x":474.5,"y":-0.00006},{"x":474.75,"y":0.00008},{"x":475,"y":0.0001},{"x":475.25,"y":-0.00004},{"x":475.5,"y":-0.00014},{"x":475.75,"y":0.00006},{"x":476,"y":0.00024},{"x":476.25,"y":0.00013},{"x":476.5,"y":-0.00003},{"x":476.75,"y":0.00005},{"x":477,"y":0.00014},{"x":477.25,"y":-0.00006},{"x":477.5,"y":-0.00017},{"x":477.75,"y":-0.00003},{"x":478,"y":0.00007},{"x":478.25,"y":-0.0001},{"x":478.5,"y":-0.00021},{"x":478.75,"y":-0.00012},{"x":479,"y":-0.00008},{"x":479.25,"y":-0.00015},{"x":479.5,"y":-0.00019},{"x":479.75,"y":-0.00002},{"x":480,"y":0.0001},{"x":480.25,"y":0.00016},{"x":480.5,"y":-0.00013},{"x":480.75,"y":0.00001},{"x":481,"y":0.00025},{"x":481.25,"y":0.00009},{"x":481.5,"y":-0.00006},{"x":481.75,"y":0.00005},{"x":482,"y":0.00012},{"x":482.25,"y":0.00019},{"x":482.5,"y":-0.00016},{"x":482.75,"y":-0.00005},{"x":483,"y":0.00004},{"x":483.25,"y":0.00012},{"x":483.5,"y":-0.0001},{"x":483.75,"y":0.00002},{"x":484,"y":0.0002},{"x":484.25,"y":0.00006},{"x":484.5,"y":-0.00004},{"x":484.75,"y":0.0001},{"x":485,"y":0.00015},{"x":485.25,"y":0.00021},{"x":485.5,"y":0.00035},{"x":485.75,"y":0.00042},{"x":486,"y":0.00052},{"x":486.25,"y":0.00012},{"x":486.5,"y":-0.00025},{"x":486.75,"y":-0.00006},{"x":487,"y":0.00009},{"x":487.25,"y":0.00002},{"x":487.5,"y":-0.00015},{"x":487.75,"y":0.00004},{"x":488,"y":0.00007},{"x":488.25,"y":0.00014},{"x":488.5,"y":0.00032},{"x":488.75,"y":0.0001},{"x":489,"y":-0.00009},{"x":489.25,"y":0.00004},{"x":489.5,"y":0.00013},{"x":489.75,"y":-0.00005},{"x":490,"y":-0.00016}]
},
"spacing":581,"bounds":"flush",
"hconcat":[
{"spacing":11.5,"bounds":"flush","vconcat":[
{"width":472,"height":94,"title":{"text":"O₄ DSCD = 6.22 × 10⁴³ molec cm⁻²","offset":-43},
"encoding":{"x":{"field":"x","type":"quantitative","scale":{"domain":[335,375],"nice":false,"zero":false},"axis":{"orient":"top","values":[335,340,345,350,355,360,365,370,375],"labels":false,"tickSize":-5,"title":null}}},
"layer":[
{"data":{"name":"l1r"},"mark":{"type":"line","color":"#ff0000","strokeWidth":1},"encoding":{"y":{"field":"y","type":"quantitative","scale":{"domain":[-0.005,0.03],"nice":false,"zero":false},"axis":{"orient":"left","title":null,"values":[-0.005,0,0.005,0.01,0.015,0.02,0.025,0.03],"labelExpr":"indexof([0,0.01,0.02,0.03],datum.value)>=0?replace(format(datum.value,'.2f'),'−','-'):''","tickSize":{"condition":{"test":"indexof([0,0.01,0.02,0.03],datum.value)>=0","value":7},"value":4}}}}},
{"data":{"name":"l1b"},"mark":{"type":"line","color":"#000000","strokeWidth":2.2,"interpolate":"monotone"},"encoding":{"y":{"field":"y","type":"quantitative","axis":{"orient":"right","title":null,"values":[-0.005,0,0.005,0.01,0.015,0.02,0.025,0.03],"labels":false,"tickSize":{"condition":{"test":"indexof([0,0.01,0.02,0.03],datum.value)>=0","value":-7},"value":-4}}}}}
],"resolve":{"axis":{"y":"independent"}}},
{"width":472,"height":94,"title":{"text":"NO₂ DSCD = 1.55 × 10¹⁷ molec cm⁻²","offset":-25},
"encoding":{"x":{"field":"x","type":"quantitative","scale":{"domain":[335,375],"nice":false,"zero":false},"axis":null}},
"layer":[
{"data":{"name":"l2r"},"mark":{"type":"line","color":"#ff0000","strokeWidth":1},"encoding":{"y":{"field":"y","type":"quantitative","scale":{"domain":[-0.01,0.02],"nice":false,"zero":false},"axis":{"orient":"left","title":null,"values":[-0.01,-0.005,0,0.005,0.01,0.015,0.02],"labelExpr":"indexof([-0.01,0,0.01,0.02],datum.value)>=0?replace(format(datum.value,'.2f'),'−','-'):''","tickSize":{"condition":{"test":"indexof([-0.01,0,0.01,0.02],datum.value)>=0","value":7},"value":4}}}}},
{"data":{"name":"l2b"},"mark":{"type":"line","color":"#000000","strokeWidth":2.2,"interpolate":"monotone"},"encoding":{"y":{"field":"y","type":"quantitative","axis":{"orient":"right","title":null,"values":[-0.01,-0.005,0,0.005,0.01,0.015,0.02],"labels":false,"tickSize":{"condition":{"test":"indexof([-0.01,0,0.01,0.02],datum.value)>=0","value":-7},"value":-4}}}}}
],"resolve":{"axis":{"y":"independent"}}},
{"width":472,"height":94,"title":{"text":"HCHO DSCD = 1.54 × 10¹⁶ molec cm⁻²","offset":-27},
"encoding":{"x":{"field":"x","type":"quantitative","scale":{"domain":[335,375],"nice":false,"zero":false},"axis":null}},
"layer":[
{"data":{"name":"nl"},"mark":{"type":"line","color":"#ff0000","strokeWidth":1},"encoding":{"y":{"field":"y","type":"quantitative","scale":{"domain":[-0.004,0.004],"nice":false,"zero":false},"axis":{"orient":"left","title":null,"values":[-0.004,-0.002,0,0.002,0.004],"labelExpr":"indexof([-0.004,0,0.004],datum.value)>=0?replace(format(datum.value,'.3f'),'−','-'):''","tickSize":{"condition":{"test":"indexof([-0.004,0,0.004],datum.value)>=0","value":7},"value":4}}}}},
{"data":{"name":"l3b"},"mark":{"type":"line","color":"#000000","strokeWidth":2.2,"interpolate":"monotone"},"encoding":{"y":{"field":"y","type":"quantitative","axis":{"orient":"right","title":null,"values":[-0.004,-0.002,0,0.002,0.004],"labels":false,"tickSize":{"condition":{"test":"indexof([-0.004,0,0.004],datum.value)>=0","value":-7},"value":-4}}}}}
],"resolve":{"axis":{"y":"independent"}}},
{"width":472,"height":94,"title":{"text":"BrO DSCD = 3.93 × 10¹³ molec cm⁻²","offset":-29},
"encoding":{"x":{"field":"x","type":"quantitative","scale":{"domain":[335,375],"nice":false,"zero":false},"axis":null}},
"layer":[
{"data":{"name":"nl"},"mark":{"type":"line","color":"#ff0000","strokeWidth":1},"encoding":{"y":{"field":"y","type":"quantitative","scale":{"domain":[-0.004,0.004],"nice":false,"zero":false},"axis":{"orient":"left","title":"Optical depth","titleAngle":270,"titleBaseline":"bottom","titleX":-61,"values":[-0.004,-0.002,0,0.002,0.004],"labelExpr":"indexof([-0.004,0,0.004],datum.value)>=0?replace(format(datum.value,'.3f'),'−','-'):''","tickSize":{"condition":{"test":"indexof([-0.004,0,0.004],datum.value)>=0","value":7},"value":4}}}}},
{"data":{"name":"l4b"},"mark":{"type":"line","color":"#000000","strokeWidth":2.2,"interpolate":"monotone"},"encoding":{"y":{"field":"y","type":"quantitative","axis":{"orient":"right","title":null,"values":[-0.004,-0.002,0,0.002,0.004],"labels":false,"tickSize":{"condition":{"test":"indexof([-0.004,0,0.004],datum.value)>=0","value":-7},"value":-4}}}}}
],"resolve":{"axis":{"y":"independent"}}},
{"width":472,"height":94,"title":{"text":"O₃_223K DSCD = 6.22 × 10⁴³ molec cm⁻²","offset":-26},
"encoding":{"x":{"field":"x","type":"quantitative","scale":{"domain":[335,375],"nice":false,"zero":false},"axis":null}},
"layer":[
{"data":{"name":"l5r"},"mark":{"type":"line","color":"#ff0000","strokeWidth":1},"encoding":{"y":{"field":"y","type":"quantitative","scale":{"domain":[-0.005,0.005],"nice":false,"zero":false},"axis":{"orient":"left","title":null,"values":[-0.005,-0.0025,0,0.0025,0.005],"labelExpr":"indexof([-0.005,0,0.005],datum.value)>=0?replace(format(datum.value,'.3f'),'−','-'):''","tickSize":{"condition":{"test":"indexof([-0.005,0,0.005],datum.value)>=0","value":7},"value":4}}}}},
{"data":{"name":"l5b"},"mark":{"type":"line","color":"#000000","strokeWidth":2.2,"interpolate":"monotone"},"encoding":{"y":{"field":"y","type":"quantitative","axis":{"orient":"right","title":null,"values":[-0.005,-0.0025,0,0.0025,0.005],"labels":false,"tickSize":{"condition":{"test":"indexof([-0.005,0,0.005],datum.value)>=0","value":-7},"value":-4}}}}}
],"resolve":{"axis":{"y":"independent"}}},
{"width":472,"height":94,"title":{"text":"Ring = 9.46 × 10⁻³","offset":-22},
"encoding":{"x":{"field":"x","type":"quantitative","scale":{"domain":[335,375],"nice":false,"zero":false},"axis":null}},
"layer":[
{"data":{"name":"l6r"},"mark":{"type":"line","color":"#ff0000","strokeWidth":1},"encoding":{"y":{"field":"y","type":"quantitative","scale":{"domain":[-0.004,0.004],"nice":false,"zero":false},"axis":{"orient":"left","title":null,"values":[-0.004,-0.002,0,0.002,0.004],"labelExpr":"indexof([-0.004,0,0.004],datum.value)>=0?replace(format(datum.value,'.3f'),'−','-'):''","tickSize":{"condition":{"test":"indexof([-0.004,0,0.004],datum.value)>=0","value":7},"value":4}}}}},
{"data":{"name":"l6b"},"mark":{"type":"line","color":"#000000","strokeWidth":2.2,"interpolate":"monotone"},"encoding":{"y":{"field":"y","type":"quantitative","axis":{"orient":"right","title":null,"values":[-0.004,-0.002,0,0.002,0.004],"labels":false,"tickSize":{"condition":{"test":"indexof([-0.004,0,0.004],datum.value)>=0","value":-7},"value":-4}}}}}
],"resolve":{"axis":{"y":"independent"}}},
{"width":472,"height":94,"title":{"text":"Residual (3.82 × 10⁻⁴)","offset":-29},
"encoding":{"x":{"field":"x","type":"quantitative","scale":{"domain":[335,375],"nice":false,"zero":false},"axis":{"orient":"bottom","values":[335,340,345,350,355,360,365,370,375],"labelExpr":"indexof([340,350,360,370],datum.value)>=0?datum.label:''","tickSize":{"condition":{"test":"indexof([340,350,360,370],datum.value)>=0","value":6},"value":3},"title":"Wavelength (nm)","titlePadding":3}}},
"layer":[
{"data":{"name":"l7r"},"mark":{"type":"line","color":"#ff0000","strokeWidth":1},"encoding":{"y":{"field":"y","type":"quantitative","scale":{"domain":[-0.0015,0.001],"nice":false,"zero":false},"axis":{"orient":"left","title":null,"values":[-0.0015,-0.001,-0.0005,0,0.0005,0.001],"labelExpr":"indexof([-0.001,0,0.001],datum.value)>=0?replace(format(datum.value,'.3f'),'−','-'):''","tickSize":{"condition":{"test":"indexof([-0.001,0,0.001],datum.value)>=0","value":7},"value":4}}}}},
{"data":{"name":"l7r"},"mark":{"type":"line","color":"#ff0000","strokeOpacity":0},"encoding":{"y":{"field":"y","type":"quantitative","axis":{"orient":"right","title":null,"values":[-0.0015,-0.001,-0.0005,0,0.0005,0.001],"labels":false,"tickSize":{"condition":{"test":"indexof([-0.001,0,0.001],datum.value)>=0","value":-7},"value":-4}}}}}
],"resolve":{"axis":{"y":"independent"}}}
]},
{"spacing":12.2,"bounds":"flush","vconcat":[
{"width":456,"height":91,"title":{"text":"O₄ DSCD = 8.99 × 10⁴³ molec cm⁻²","offset":-42},
"encoding":{"x":{"field":"x","type":"quantitative","scale":{"domain":[420,500],"nice":false,"zero":false},"axis":{"orient":"top","values":[420,440,460,480,500],"labels":false,"tickSize":-6,"title":null}}},
"layer":[
{"data":{"name":"r1r"},"mark":{"type":"line","color":"#ff0000","strokeWidth":1},"encoding":{"y":{"field":"y","type":"quantitative","scale":{"domain":[-0.01,0.07],"nice":false,"zero":false},"axis":{"orient":"left","title":null,"values":[-0.01,0,0.01,0.02,0.03,0.04,0.05,0.06,0.07],"labelExpr":"indexof([0,0.02,0.04,0.06],datum.value)>=0?replace(format(datum.value,'.2f'),'−','-'):''","tickSize":{"condition":{"test":"indexof([0,0.02,0.04,0.06],datum.value)>=0","value":7},"value":4}}}}},
{"data":{"name":"r1b"},"mark":{"type":"line","color":"#000000","strokeWidth":1.4,"interpolate":"monotone"},"encoding":{"y":{"field":"y","type":"quantitative","axis":{"orient":"right","title":null,"values":[-0.01,0,0.01,0.02,0.03,0.04,0.05,0.06,0.07],"labels":false,"tickSize":{"condition":{"test":"indexof([0,0.02,0.04,0.06],datum.value)>=0","value":-7},"value":-4}}}}}
],"resolve":{"axis":{"y":"independent"}}},
{"width":456,"height":91,"title":{"text":"NO₂ DSCD = 1.64 × 10¹⁷ molec cm⁻²","offset":-25},
"encoding":{"x":{"field":"x","type":"quantitative","scale":{"domain":[420,500],"nice":false,"zero":false},"axis":null}},
"layer":[
{"data":{"name":"r2r"},"mark":{"type":"line","color":"#ff0000","strokeWidth":1},"encoding":{"y":{"field":"y","type":"quantitative","scale":{"domain":[-0.04,0.04],"nice":false,"zero":false},"axis":{"orient":"left","title":null,"values":[-0.04,-0.02,0,0.02,0.04],"labelExpr":"indexof([-0.04,0,0.04],datum.value)>=0?replace(format(datum.value,'.2f'),'−','-'):''","tickSize":{"condition":{"test":"indexof([-0.04,0,0.04],datum.value)>=0","value":7},"value":4}}}}},
{"data":{"name":"r2b"},"mark":{"type":"line","color":"#000000","strokeWidth":1.8,"interpolate":"monotone"},"encoding":{"y":{"field":"y","type":"quantitative","axis":{"orient":"right","title":null,"values":[-0.04,-0.02,0,0.02,0.04],"labels":false,"tickSize":{"condition":{"test":"indexof([-0.04,0,0.04],datum.value)>=0","value":-7},"value":-4}}}}}
],"resolve":{"axis":{"y":"independent"}}},
{"width":456,"height":91,"title":{"text":"H₂O DSCD = 4.64 × 10²² molec cm⁻²","offset":-24},
"encoding":{"x":{"field":"x","type":"quantitative","scale":{"domain":[420,500],"nice":false,"zero":false},"axis":null}},
"layer":[
{"data":{"name":"nr"},"mark":{"type":"line","color":"#ff0000","strokeWidth":0.9},"encoding":{"y":{"field":"y","type":"quantitative","scale":{"domain":[-0.008,0.012],"nice":false,"zero":false},"axis":{"orient":"left","title":"Optical depth","titleAngle":270,"titleBaseline":"bottom","titleX":-60,"titleY":68,"values":[-0.008,-0.004,0,0.004,0.008,0.012],"labelExpr":"indexof([-0.008,0,0.008],datum.value)>=0?replace(format(datum.value,'.3f'),'−','-'):''","tickSize":{"condition":{"test":"indexof([-0.008,0,0.008],datum.value)>=0","value":7},"value":4}}}}},
{"data":{"name":"r3b"},"mark":{"type":"line","color":"#000000","strokeWidth":1.8,"interpolate":"monotone"},"encoding":{"y":{"field":"y","type":"quantitative","axis":{"orient":"right","title":null,"values":[-0.008,-0.004,0,0.004,0.008,0.012],"labels":false,"tickSize":{"condition":{"test":"indexof([-0.008,0,0.008],datum.value)>=0","value":-7},"value":-4}}}}}
],"resolve":{"axis":{"y":"independent"}}},
{"width":456,"height":91,"title":{"text":"O₃_223K DSCD = -3.03 × 10¹⁸ molec cm⁻²","offset":-25},
"encoding":{"x":{"field":"x","type":"quantitative","scale":{"domain":[420,500],"nice":false,"zero":false},"axis":null}},
"layer":[
{"data":{"name":"nr"},"mark":{"type":"line","color":"#ff0000","strokeWidth":0.9},"encoding":{"y":{"field":"y","type":"quantitative","scale":{"domain":[-0.006,0.012],"nice":false,"zero":false},"axis":{"orient":"left","title":null,"values":[-0.006,-0.003,0,0.003,0.006,0.009,0.012],"labelExpr":"indexof([-0.006,0,0.006,0.012],datum.value)>=0?replace(format(datum.value,'.3f'),'−','-'):''","tickSize":{"condition":{"test":"indexof([-0.006,0,0.006,0.012],datum.value)>=0","value":7},"value":4}}}}},
{"data":{"name":"r4b"},"mark":{"type":"line","color":"#000000","strokeWidth":1.8,"interpolate":"monotone"},"encoding":{"y":{"field":"y","type":"quantitative","axis":{"orient":"right","title":null,"values":[-0.006,-0.003,0,0.003,0.006,0.009,0.012],"labels":false,"tickSize":{"condition":{"test":"indexof([-0.006,0,0.006,0.012],datum.value)>=0","value":-7},"value":-4}}}}}
],"resolve":{"axis":{"y":"independent"}}},
{"width":456,"height":91,"title":{"text":"Ring = 8.16 × 10⁻³","offset":-22},
"encoding":{"x":{"field":"x","type":"quantitative","scale":{"domain":[420,500],"nice":false,"zero":false},"axis":null}},
"layer":[
{"data":{"name":"nr"},"mark":{"type":"line","color":"#ff0000","strokeWidth":0.9},"encoding":{"y":{"field":"y","type":"quantitative","scale":{"domain":[-0.006,0.012],"nice":false,"zero":false},"axis":{"orient":"left","title":null,"values":[-0.006,-0.003,0,0.003,0.006,0.009,0.012],"labelExpr":"indexof([-0.006,0,0.006,0.012],datum.value)>=0?replace(format(datum.value,'.3f'),'−','-'):''","tickSize":{"condition":{"test":"indexof([-0.006,0,0.006,0.012],datum.value)>=0","value":7},"value":4}}}}},
{"data":{"name":"r5b"},"mark":{"type":"line","color":"#000000","strokeWidth":1.8,"interpolate":"monotone"},"encoding":{"y":{"field":"y","type":"quantitative","axis":{"orient":"right","title":null,"values":[-0.006,-0.003,0,0.003,0.006,0.009,0.012],"labels":false,"tickSize":{"condition":{"test":"indexof([-0.006,0,0.006,0.012],datum.value)>=0","value":-7},"value":-4}}}}}
],"resolve":{"axis":{"y":"independent"}}},
{"width":456,"height":91,"title":{"text":"Residual (1.45 × 10⁻⁴)","offset":-24},
"encoding":{"x":{"field":"x","type":"quantitative","scale":{"domain":[420,500],"nice":false,"zero":false},"axis":{"orient":"bottom","values":[420,430,440,450,460,470,480,490,500],"labelExpr":"indexof([420,440,460,480,500],datum.value)>=0?datum.label:''","tickSize":{"condition":{"test":"indexof([420,440,460,480,500],datum.value)>=0","value":6},"value":3},"title":"Wavelength (nm)","titlePadding":3}}},
"layer":[
{"data":{"name":"r6r"},"mark":{"type":"line","color":"#ff0000","strokeWidth":0.9},"encoding":{"y":{"field":"y","type":"quantitative","scale":{"domain":[-0.0004,0.0008],"nice":false,"zero":false},"axis":{"orient":"left","title":null,"values":[-0.0004,-0.0002,0,0.0002,0.0004,0.0006,0.0008],"labelExpr":"indexof([-0.0004,0,0.0004,0.0008],datum.value)>=0?replace(format(datum.value,'.4f'),'−','-'):''","tickSize":{"condition":{"test":"indexof([-0.0004,0,0.0004,0.0008],datum.value)>=0","value":7},"value":4}}}}},
{"data":{"name":"r6r"},"mark":{"type":"line","color":"#ff0000","strokeOpacity":0},"encoding":{"y":{"field":"y","type":"quantitative","axis":{"orient":"right","title":null,"values":[-0.0004,-0.0002,0,0.0002,0.0004,0.0006,0.0008],"labels":false,"tickSize":{"condition":{"test":"indexof([-0.0004,0,0.0004,0.0008],datum.value)>=0","value":-7},"value":-4}}}}}
],"resolve":{"axis":{"y":"independent"}}}
]}
]
}
